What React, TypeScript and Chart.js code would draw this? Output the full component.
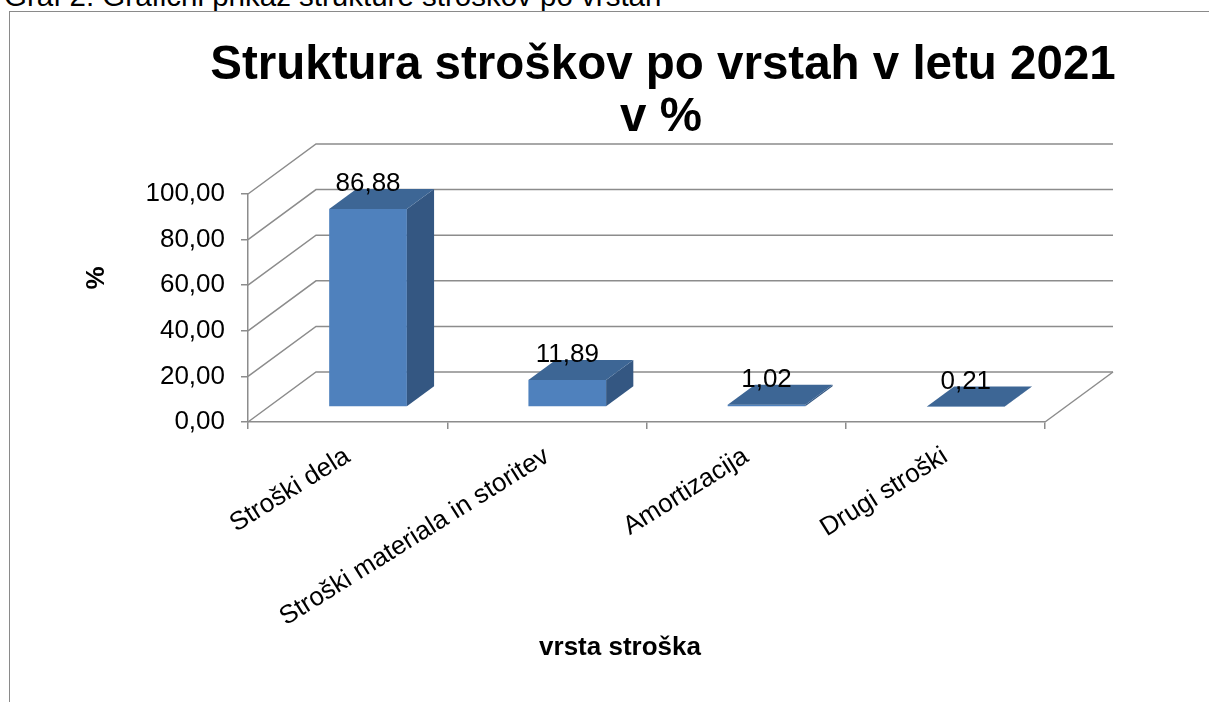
import React, { useEffect, useRef } from 'react';
import { Chart, registerables } from 'chart.js';

Chart.register(...registerables);

// ---- data ----
const caption = 'Graf 2: Grafični prikaz strukture stroškov po vrstah';
const chartTitle = ['Struktura stroškov po vrstah v letu 2021', 'v %'];
const categories = ['Stroški dela', 'Stroški materiala in storitev', 'Amortizacija', 'Drugi stroški'];
const shares = [86.88, 11.89, 1.02, 0.21];
const yTitle = '%';
const xTitle = 'vrsta stroška';
const Y_MIN = 0;
const Y_MAX = 100;
const Y_STEP = 20;

// ---- style ----
const FONT = '"Liberation Sans", Arial, Helvetica, sans-serif';
const DX = 68; // depth projection (x)
const DY = 50; // depth projection (y, upwards)
const FRONT = 0.3;
const BACK = 0.7;
const GRID = '#8c8c8c';
const FACE = '#4F81BD';
const TOPC = '#3D6695';
const SIDE = '#345782';

const fmt = (v: number) => Number(v).toFixed(2).replace('.', ',');

const excel3d = {
  id: 'excel3d',
  beforeDatasetsDraw(chart: any) {
    const { ctx, chartArea: a } = chart;
    const y = chart.scales.y;
    ctx.save();
    ctx.strokeStyle = GRID;
    ctx.lineWidth = 1.5;
    y.ticks.forEach((t: any) => {
      const py = y.getPixelForValue(t.value);
      ctx.beginPath();
      ctx.moveTo(a.left, py);
      ctx.lineTo(a.left + DX, py - DY);
      ctx.lineTo(a.right + DX, py - DY);
      ctx.stroke();
    });
    const p0 = y.getPixelForValue(Y_MIN);
    ctx.beginPath();
    ctx.moveTo(a.right, p0);
    ctx.lineTo(a.right + DX, p0 - DY);
    ctx.stroke();
    ctx.restore();
  },
  afterDatasetsDraw(chart: any) {
    const { ctx } = chart;
    const meta = chart.getDatasetMeta(0);
    const values = chart.data.datasets[0].data as number[];
    ctx.save();
    meta.data.forEach((bar: any, i: number) => {
      const { x, y, base, width } = bar.getProps(['x', 'y', 'base', 'width'], true);
      const fx = FRONT * DX;
      const fy = FRONT * DY;
      const bx = (BACK - FRONT) * DX;
      const by = (BACK - FRONT) * DY;
      const l = x - width / 2 + fx;
      const r = x + width / 2 + fx;
      const t = y - fy;
      const b = base - fy;
      ctx.fillStyle = FACE;
      ctx.fillRect(l, t, r - l, b - t);
      ctx.fillStyle = SIDE;
      ctx.beginPath();
      ctx.moveTo(r, t);
      ctx.lineTo(r + bx, t - by);
      ctx.lineTo(r + bx, b - by);
      ctx.lineTo(r, b);
      ctx.closePath();
      ctx.fill();
      ctx.fillStyle = TOPC;
      ctx.beginPath();
      ctx.moveTo(l, t);
      ctx.lineTo(r, t);
      ctx.lineTo(r + bx, t - by);
      ctx.lineTo(l + bx, t - by);
      ctx.closePath();
      ctx.fill();
      ctx.fillStyle = '#000';
      ctx.font = `26px ${FONT}`;
      ctx.textAlign = 'center';
      ctx.textBaseline = 'alphabetic';
      ctx.fillText(fmt(values[i]), (l + r) / 2, t - by + 2);
    });
    ctx.restore();
  },
  afterDraw(chart: any) {
    const { ctx } = chart;
    ctx.save();
    ctx.fillStyle = '#000';
    ctx.textAlign = 'center';
    ctx.textBaseline = 'alphabetic';
    ctx.font = `bold 47.5px ${FONT}`;
    ctx.fillText(chartTitle[0], 663, 79);
    ctx.fillText(chartTitle[1], 661, 131);
    ctx.font = `bold 26px ${FONT}`;
    ctx.textBaseline = 'middle';
    ctx.fillText(xTitle, 620, 648);
    ctx.translate(97, 278);
    ctx.rotate(-Math.PI / 2);
    ctx.fillText(yTitle, 0, 0);
    ctx.restore();
  },
};

export default function App() {
  const ref = useRef<HTMLCanvasElement | null>(null);
  useEffect(() => {
    if (!ref.current) return;
    const chart = new Chart(ref.current, {
      type: 'bar',
      data: {
        labels: categories,
        datasets: [
          {
            data: shares,
            backgroundColor: 'rgba(0,0,0,0)',
            borderWidth: 0,
            barPercentage: 0.39,
            categoryPercentage: 1,
          },
        ],
      },
      options: {
        responsive: false,
        animation: false,
        events: [],
        layout: { padding: { left: 20, right: 164, top: 194, bottom: 0 } },
        plugins: {
          legend: { display: false },
          title: { display: false },
          tooltip: { enabled: false },
        },
        scales: {
          x: {
            grid: { drawOnChartArea: false, drawTicks: true, tickLength: 7, color: GRID, lineWidth: 1.5, offset: true },
            border: { display: true, color: GRID, width: 1.5 },
            ticks: {
              minRotation: 32,
              maxRotation: 32,
              autoSkip: false,
              padding: 12,
              color: '#000',
              font: { family: FONT, size: 26 },
            },
            afterFit: (s: any) => {
              s.height = 280;
            },
          },
          y: {
            min: Y_MIN,
            max: Y_MAX,
            grid: { drawOnChartArea: false, drawTicks: true, tickLength: 7, color: GRID, lineWidth: 1.5 },
            border: { display: true, color: GRID, width: 1.5 },
            ticks: {
              stepSize: Y_STEP,
              padding: 16,
              color: '#000',
              font: { family: FONT, size: 26 },
              callback: (v: any) => fmt(v),
            },
            afterFit: (s: any) => {
              s.width = 228;
            },
          },
        },
      },
      plugins: [excel3d],
    });
    return () => chart.destroy();
  }, []);

  return (
    <div style={{ position: 'absolute', left: 0, top: 0, width: 1209, height: 702, overflow: 'hidden', background: '#fff' }}>
      <div
        style={{
          position: 'absolute',
          left: 4,
          top: -19,
          font: `29.5px ${FONT}`,
          lineHeight: '29px',
          whiteSpace: 'nowrap',
          color: '#000',
        }}
      >
        {caption}
      </div>
      <div
        style={{
          position: 'absolute',
          left: 9,
          top: 11,
          width: 1400,
          height: 900,
          borderLeft: '1px solid #8a8a8a',
          borderTop: '1px solid #8a8a8a',
        }}
      />
      <canvas ref={ref} width={1209} height={702} style={{ position: 'absolute', left: 0, top: 0, display: 'block' }} />
    </div>
  );
}
